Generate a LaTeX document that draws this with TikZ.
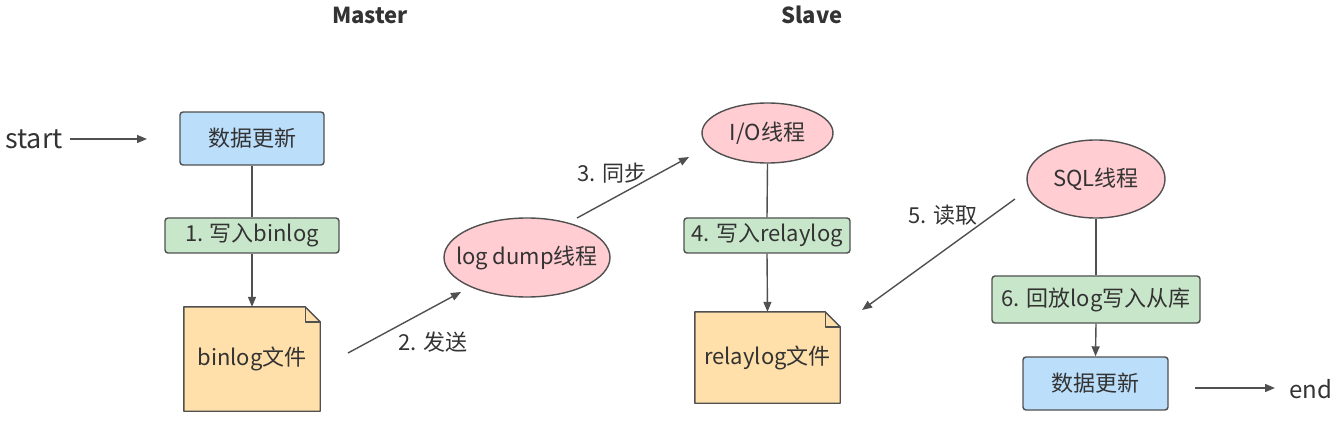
\documentclass[tikz,border=0pt]{standalone}
\usepackage{fontspec}
\setmainfont{Noto Sans CJK SC}
\usetikzlibrary{arrows.meta,backgrounds,shapes.geometric}
\definecolor{bluef}{HTML}{BBDEFB}
\definecolor{greenf}{HTML}{C8E6C9}
\definecolor{pinkf}{HTML}{FFCDD2}
\definecolor{orangef}{HTML}{FFDFAA}
\definecolor{edgec}{HTML}{505050}
\definecolor{txtc}{HTML}{333333}
\newcommand{\fsz}{\fontsize{22}{26}\selectfont}
\newcommand{\mydoc}[1]{%
  \begin{scope}[on background layer]
    \filldraw[fill=orangef, draw=edgec, line width=1.4pt, line join=round]
      (#1.south west) -- (#1.north west) -- ([xshift=-15pt]#1.north east)
      -- ([yshift=-15pt]#1.north east) -- (#1.south east) -- cycle;
    \draw[edgec, line width=1.4pt, line join=round]
      ([xshift=-15pt]#1.north east) -- ([xshift=-15pt,yshift=-15pt]#1.north east)
      -- ([yshift=-15pt]#1.north east);
  \end{scope}}
\begin{document}
\begin{tikzpicture}[x=1pt,y=-1pt,
  every node/.style={text=txtc, font=\fsz, inner sep=0pt},
  bluebox/.style={draw=edgec, fill=bluef, line width=1.4pt, rounded corners=3pt},
  greenbox/.style={draw=edgec, fill=greenf, line width=1.4pt, rounded corners=3pt},
  thread/.style={ellipse, draw=edgec, fill=pinkf, line width=1.4pt},
  docnode/.style={draw=none},
  conn/.style={draw=edgec, line width=1.4pt},
  arr/.style={conn, -{Triangle[length=10pt,width=8pt]}},
  title/.style={font=\fsz\bfseries}]
\useasboundingbox (0,0) rectangle (1342,422);

% titles
\node[title] (tm) at (370,15) {Master};
\node[title] (ts) at (812,15) {Slave};

% master side
\node[font=\fontsize{27}{30}\selectfont] (st) at (34,139) {start};
\node[bluebox, minimum width=144pt, minimum height=53pt] (b1) at (252,138.5) {数据更新};
\node[greenbox, minimum width=174pt, minimum height=35pt] (l1) at (252,235.5) {1. 写入binlog};
\node[docnode, minimum width=136pt, minimum height=104pt] (bf) at (252,359) {binlog文件};
\mydoc{bf}

\node[thread, minimum width=166pt, minimum height=79pt] (ld) at (527,257.5) {\makebox[0pt]{log dump线程}};

% slave side
\node[thread, minimum width=131pt, minimum height=60pt] (io) at (767.5,133) {\makebox[0pt]{I/O线程}};
\node[greenbox, minimum width=166pt, minimum height=35pt] (l4) at (767,235.5) {4. 写入relaylog};
\node[docnode, minimum width=145pt, minimum height=91pt] (rf) at (767.5,357.5) {relaylog文件};
\mydoc{rf}

\node[thread, minimum width=138pt, minimum height=78pt] (sql) at (1096,179) {\makebox[0pt]{SQL线程}};
\node[greenbox, minimum width=208pt, minimum height=47pt] (l6) at (1096,299.5) {6. 回放log写入从库};
\node[bluebox, minimum width=145pt, minimum height=53pt] (b2) at (1095.5,383.5) {数据更新};
\node[font=\fontsize{24}{28}\selectfont] (en) at (1311,389) {end};

% free ends
\coordinate (s1) at (70,139);
\coordinate (s2) at (147,139);
\coordinate (a2s) at (348,353);
\coordinate (a2e) at (461,292);
\coordinate (a3s) at (577,218);
\coordinate (a3e) at (689,157);
\coordinate (a5s) at (1015,199);
\coordinate (a5e) at (862,310);
\coordinate (e1) at (1195,388);
\coordinate (e2) at (1275,388);

% connectors
\draw[arr] (s1) -- (s2);
\draw[conn] (b1.south) -- (l1.north);
\draw[arr] (l1.south) -- (bf.north);
\draw[arr] (a2s) -- (a2e);
\draw[arr] (a3s) -- (a3e);
\draw[conn] (io.south) -- (l4.north);
\draw[arr] (l4.south) -- (rf.north);
\draw[arr] (a5s) -- (a5e);
\draw[conn] (sql.south) -- (l6.north);
\draw[arr] (l6.south) -- (b2.north);
\draw[arr] (e1) -- (e2);

% edge labels
\node (t2) at (433,342) {2. 发送};
\node (t3) at (612,173) {3. 同步};
\node (t5) at (943,215) {5. 读取};
\end{tikzpicture}
\end{document}
